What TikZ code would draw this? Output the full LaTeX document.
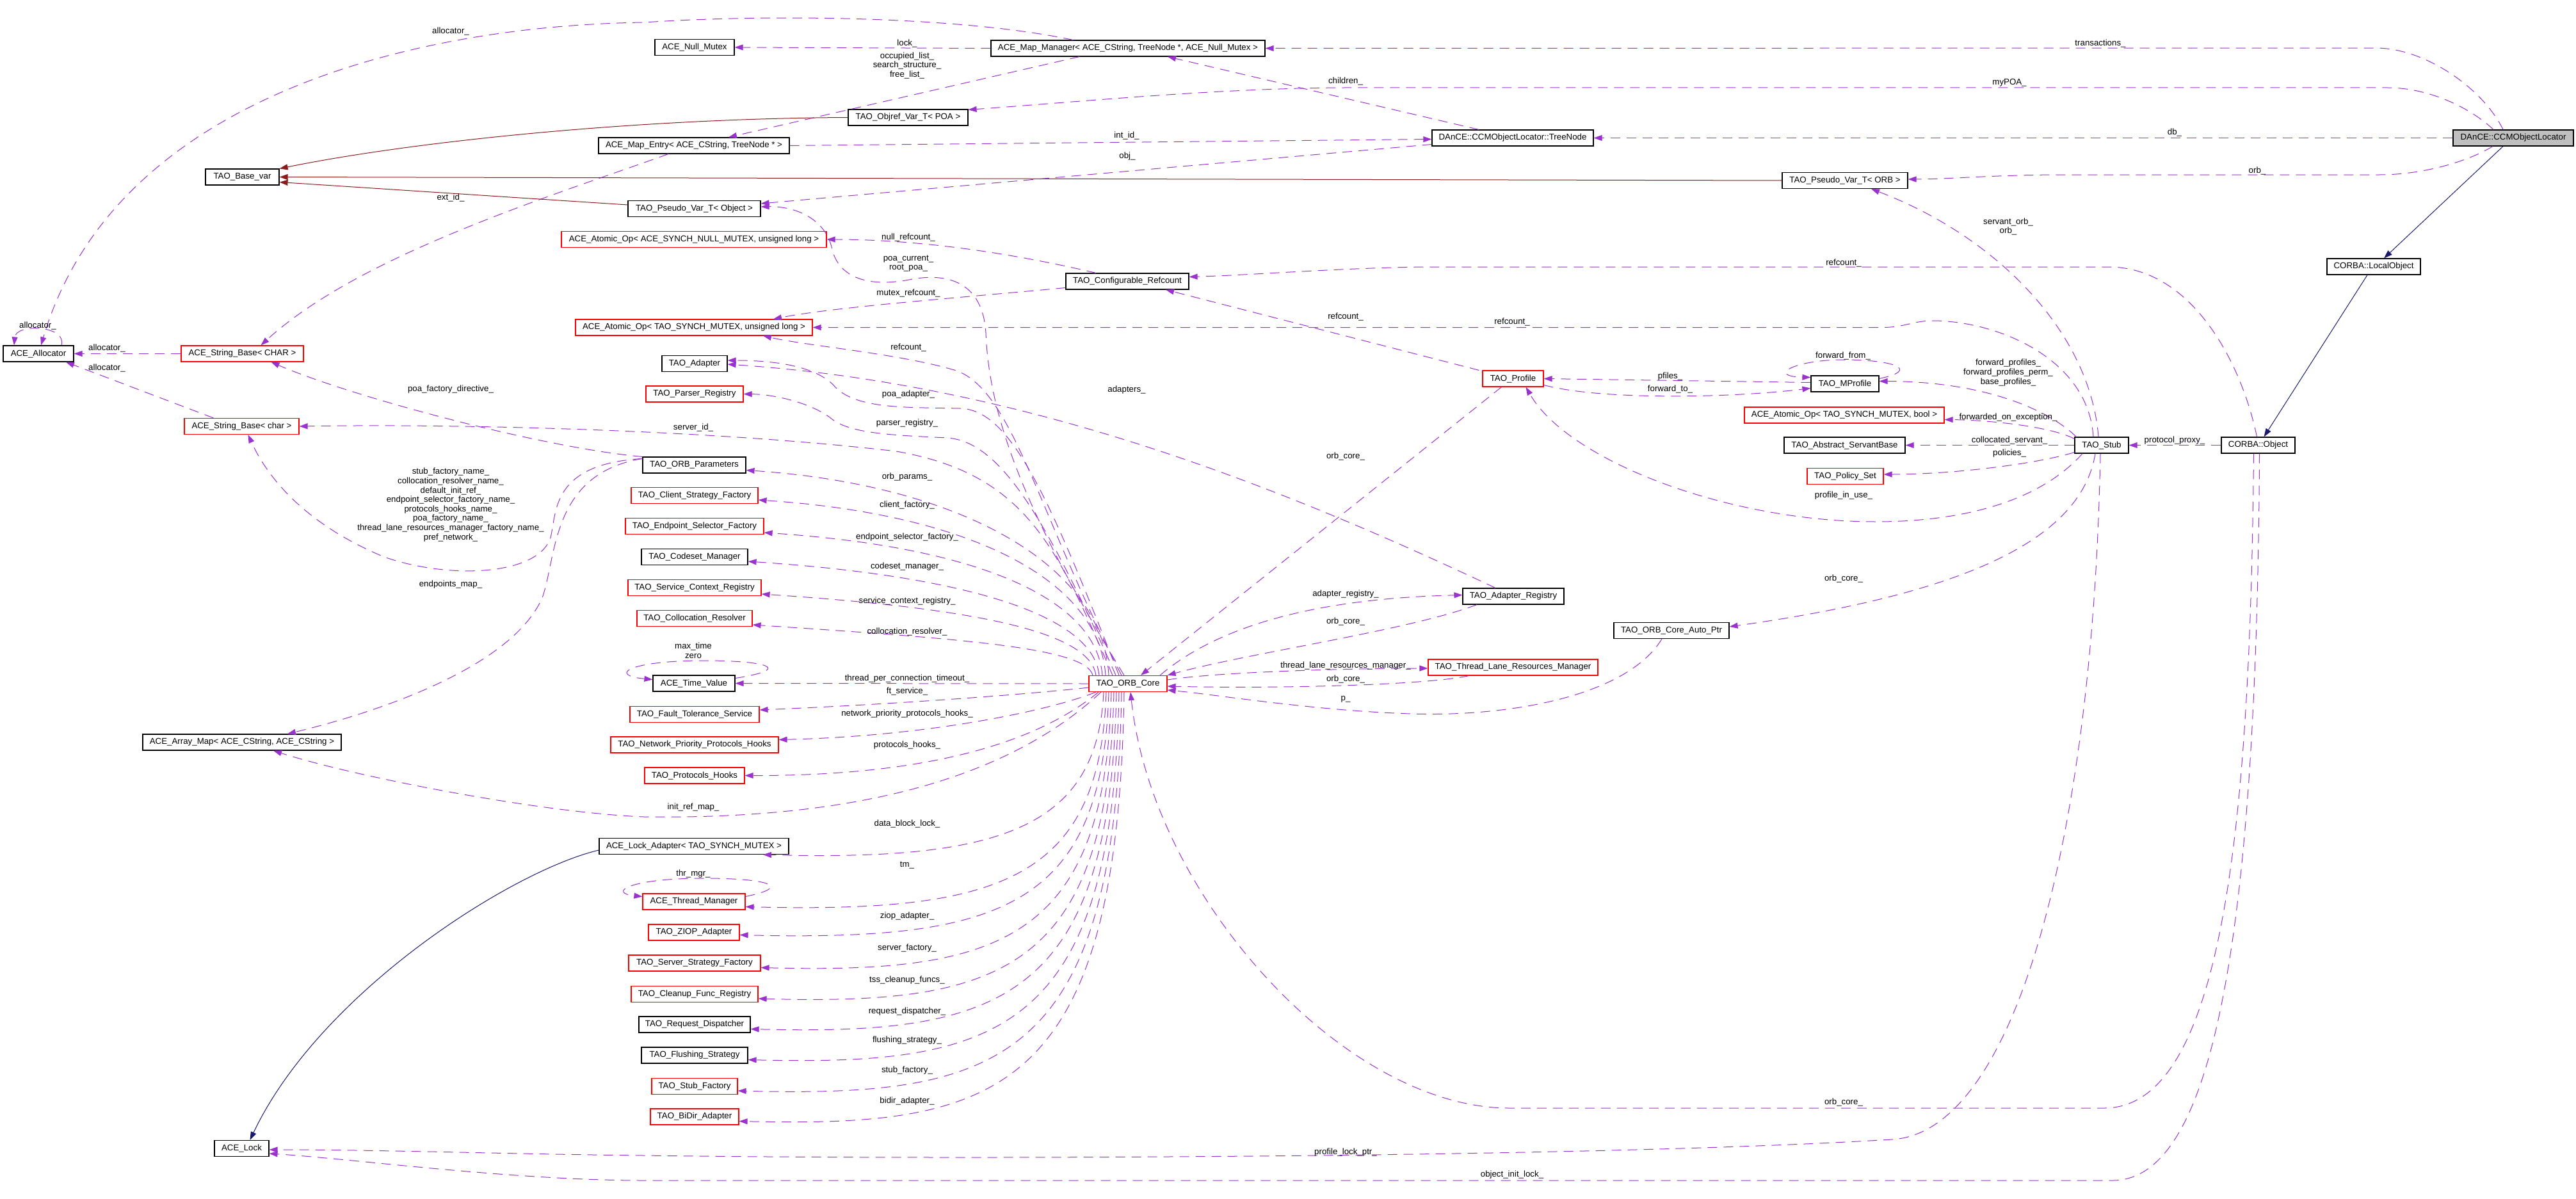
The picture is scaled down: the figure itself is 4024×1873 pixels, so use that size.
\documentclass[tikz,border=0pt]{standalone}
\usepackage{fontspec}
\setmainfont{Liberation Sans}
\usetikzlibrary{arrows.meta}
\definecolor{purp}{HTML}{9A32CD}
\definecolor{dred}{HTML}{8B1A1A}
\definecolor{mblue}{HTML}{191970}
\definecolor{gfill}{HTML}{BFBFBF}
\newcommand\dxf{\fontsize{13.3}{14.6}\selectfont}
\begin{document}
\begin{tikzpicture}[x=1pt,y=-1pt,
 box/.style={draw=black,line width=1.15pt,minimum height=25pt,inner sep=0pt,font=\dxf},
 rbox/.style={box,draw=red},
 gbox/.style={box,fill=gfill},
 lab/.style={font=\dxf,inner sep=0pt,align=center},
 mem/.style={draw=purp,line width=1pt,dash pattern=on 15pt off 10pt,-{Triangle[length=13pt,width=9pt]}},
 tmpl/.style={draw=dred,line width=1pt,-{Triangle[length=13pt,width=9pt]}},
 inh/.style={draw=mblue,line width=1pt,-{Triangle[length=13pt,width=9pt]}}]
\fill[white] (0,0) rectangle (4024,1873);
\useasboundingbox (0,0) rectangle (4024,1873);
% ---------- nodes
\node[box,minimum width=110pt] (alloc) at (60,552.5) {ACE\_Allocator};
\node[rbox,minimum width=191pt] (strCHAR) at (378.5,552.5) {ACE\_String\_Base< CHAR >};
\node[box,minimum width=115pt] (basevar) at (378.5,276.5) {TAO\_Base\_var};
\node[box,minimum width=124pt] (nullmtx) at (1085,74) {ACE\_Null\_Mutex};
\node[box,minimum width=428pt] (mapmgr) at (1762,75.5) {ACE\_Map\_Manager< ACE\_CString, TreeNode *, ACE\_Null\_Mutex >};
\node[box,minimum width=187pt] (objref) at (1418.5,183.5) {TAO\_Objref\_Var\_T< POA >};
\node[box,minimum width=298pt] (mapentry) at (1084,227.5) {ACE\_Map\_Entry< ACE\_CString, TreeNode * >};
\node[box,minimum width=207pt] (pvobj) at (1084.5,326) {TAO\_Pseudo\_Var\_T< Object >};
\node[rbox,minimum width=414pt] (atomnull) at (1084,374) {ACE\_Atomic\_Op< ACE\_SYNCH\_NULL\_MUTEX, unsigned long >};
\node[box,minimum width=192pt] (cref) at (1761,439.5) {TAO\_Configurable\_Refcount};
\node[rbox,minimum width=370pt] (atommtx) at (1084,511.5) {ACE\_Atomic\_Op< TAO\_SYNCH\_MUTEX, unsigned long >};
\node[box,minimum width=102pt] (adapter) at (1085,568) {TAO\_Adapter};
\node[rbox,minimum width=152pt] (parser) at (1085,615.5) {TAO\_Parser\_Registry};
\node[rbox,minimum width=179pt] (strchar) at (377.5,666) {ACE\_String\_Base< char >};
\node[box,minimum width=161pt] (orbparams) at (1084.5,726.5) {TAO\_ORB\_Parameters};
\node[rbox,minimum width=198pt] (clientfac) at (1085,774) {TAO\_Client\_Strategy\_Factory};
\node[rbox,minimum width=216pt] (epfac) at (1085,822) {TAO\_Endpoint\_Selector\_Factory};
\node[box,minimum width=166pt] (codeset) at (1085,870) {TAO\_Codeset\_Manager};
\node[rbox,minimum width=208pt] (servctx) at (1085,918) {TAO\_Service\_Context\_Registry};
\node[rbox,minimum width=180pt] (colloc) at (1085,966) {TAO\_Collocation\_Resolver};
\node[box,minimum width=128pt] (timeval) at (1084,1067.5) {ACE\_Time\_Value};
\node[rbox,minimum width=202pt] (ftserv) at (1085,1116) {TAO\_Fault\_Tolerance\_Service};
\node[rbox,minimum width=262pt] (netprio) at (1085,1163.5) {TAO\_Network\_Priority\_Protocols\_Hooks};
\node[rbox,minimum width=156pt] (prothooks) at (1085,1211.5) {TAO\_Protocols\_Hooks};
\node[box,minimum width=310pt] (arraymap) at (378,1159.5) {ACE\_Array\_Map< ACE\_CString, ACE\_CString >};
\node[box,minimum width=296pt] (lockadapter) at (1084,1322) {ACE\_Lock\_Adapter< TAO\_SYNCH\_MUTEX >};
\node[rbox,minimum width=160pt] (thrmgr) at (1084,1408.5) {ACE\_Thread\_Manager};
\node[rbox,minimum width=142pt] (ziop) at (1084,1456.5) {TAO\_ZIOP\_Adapter};
\node[rbox,minimum width=206pt] (servfac) at (1085,1504.5) {TAO\_Server\_Strategy\_Factory};
\node[rbox,minimum width=198pt] (cleanup) at (1085,1553) {TAO\_Cleanup\_Func\_Registry};
\node[box,minimum width=174pt] (reqdisp) at (1085,1600.5) {TAO\_Request\_Dispatcher};
\node[box,minimum width=166pt] (flush) at (1085,1648.5) {TAO\_Flushing\_Strategy};
\node[rbox,minimum width=134pt] (stubfac) at (1085,1697) {TAO\_Stub\_Factory};
\node[rbox,minimum width=138pt] (bidir) at (1085,1744.5) {TAO\_BiDir\_Adapter};
\node[box,minimum width=85pt] (acelock) at (377.5,1794) {ACE\_Lock};
\node[rbox,minimum width=122pt] (orbcore) at (1762,1068) {TAO\_ORB\_Core};
\node[box,minimum width=252pt] (treenode) at (2363,215.5) {DAnCE::CCMObjectLocator::TreeNode};
\node[box,minimum width=196pt] (pvorb) at (2882,282) {TAO\_Pseudo\_Var\_T< ORB >};
\node[rbox,minimum width=95pt] (profile) at (2363.5,591.5) {TAO\_Profile};
\node[box,minimum width=106pt] (mprofile) at (2882,599.5) {TAO\_MProfile};
\node[box,minimum width=158pt] (adreg) at (2364,931.5) {TAO\_Adapter\_Registry};
\node[rbox,minimum width=265pt] (tlrm) at (2363.5,1042.5) {TAO\_Thread\_Lane\_Resources\_Manager};
\node[box,minimum width=180pt] (autoptr) at (2611,985) {TAO\_ORB\_Core\_Auto\_Ptr};
\node[rbox,minimum width=312pt] (atombool) at (2881,648.5) {ACE\_Atomic\_Op< TAO\_SYNCH\_MUTEX, bool >};
\node[box,minimum width=189pt] (servbase) at (2881.5,695.5) {TAO\_Abstract\_ServantBase};
\node[rbox,minimum width=119pt] (policy) at (2882.5,744) {TAO\_Policy\_Set};
\node[box,minimum width=84pt] (stub) at (3283,695.5) {TAO\_Stub};
\node[box,minimum width=115pt] (cobj) at (3527.5,695.5) {CORBA::Object};
\node[box,minimum width=146pt] (lobj) at (3708,416.5) {CORBA::LocalObject};
\node[gbox,minimum width=188pt] (loc) at (3926,215.5) {DAnCE::CCMObjectLocator};
% ---------- edges: locator
\draw[mem] ([xshift=-16pt]loc.north) .. controls (3880,140) and (3790,75) .. (3711,75) -- (mapmgr.east);
\draw[mem] ([xshift=-31pt]loc.north) .. controls (3855,165) and (3790,137) .. (3730,137) -- (2100,137) .. controls (1900,138) and (1700,158) .. ([yshift=-1pt]objref.north east);
\draw[mem] (loc.west) -- (treenode.east);
\draw[mem] ([xshift=-32pt]loc.south) .. controls (3850,255) and (3780,273) .. (3717,273) -- (3210,273) .. controls (3100,274) and (3040,280) .. ([yshift=2pt]pvorb.east);
\draw[inh] ([xshift=-16pt]loc.south) -- ([xshift=16pt]lobj.north);
\draw[inh] ([xshift=-10pt]lobj.south) -- ([xshift=9pt]cobj.north);
% treenode / map
\draw[mem] ([xshift=-53pt]treenode.north) -- ([xshift=62pt]mapmgr.south);
\draw[mem] (mapmgr.west) -- (nullmtx.east);
\draw[mem] ([xshift=-76pt]mapmgr.south) -- ([xshift=54pt]mapentry.north);
\draw[mem] ([xshift=-86pt]mapmgr.north) .. controls (1500,25) and (1200,22) .. (1006,35) .. controls (650,40) and (180,150) .. ([xshift=4pt]alloc.north);
\draw[mem] (mapentry.east) -- ([yshift=-2pt]treenode.west);
\draw[mem] ([xshift=-40pt]mapentry.south) .. controls (850,310) and (560,400) .. ([xshift=29pt]strCHAR.north);
\draw[mem] ([yshift=-10pt]treenode.west) -- ([yshift=8pt]pvobj.east);
% templates
\draw[tmpl] (objref.west) .. controls (1000,185) and (650,220) .. (basevar.north east);
\draw[tmpl] (pvorb.west) -- (basevar.east);
\draw[tmpl] ([yshift=6pt]pvobj.west) -- ([yshift=-8pt]basevar.east);
% refcounts
\draw[mem] ([xshift=-49pt]cref.north) .. controls (1600,400) and (1450,374) .. (atomnull.east);
\draw[mem] ([yshift=-10pt]cref.west) .. controls (1500,465) and (1300,480) .. ([xshift=124pt]atommtx.north);
\draw[mem] ([xshift=-53pt]profile.north) -- ([xshift=60pt]cref.south);
\draw[mem] ([xshift=-2pt]cobj.north) .. controls (3500,560) and (3420,417) .. (3294,417) -- (2230,417) .. controls (2100,418) and (1950,430) .. ([yshift=7pt]cref.east);
\draw[mem] ([xshift=-13pt]stub.north) .. controls (3262,560) and (3120,501) .. (3018,501) .. controls (2990,501) and (2975,511.5) .. (2940,511.5) -- (atommtx.east);
% stub
\draw[mem] ([xshift=-5pt]stub.north) .. controls (3265,520) and (3120,370) .. ([xshift=41pt]pvorb.south);
\draw[mem] ([xshift=3pt]stub.north west) .. controls (3200,640) and (3100,596) .. ([yshift=4pt]mprofile.east);
\draw[mem] ([yshift=-3pt]stub.north west) .. controls (3200,665) and (3100,656) .. ([yshift=-7pt]atombool.east);
\draw[mem] (stub.west) -- (servbase.east);
\draw[mem] ([yshift=2pt]stub.south west) .. controls (3180,725) and (3050,741) .. ([yshift=3pt]policy.east);
\draw[mem] ([xshift=-30pt]stub.south) .. controls (3180,790) and (3050,815) .. (2930,815) .. controls (2700,815) and (2450,720) .. ([xshift=20pt]profile.south);
\draw[mem] ([xshift=-10pt]stub.south) .. controls (3250,850) and (3050,930) .. ([yshift=6pt]autoptr.east);
\draw[mem] (cobj.west) -- (stub.east);
\draw[mem] ([xshift=-7pt]cobj.south) .. controls (3515,1300) and (3470,1731) .. (3287,1731) -- (2358,1731) .. controls (2100,1731) and (1800,1400) .. ([xshift=4pt]orbcore.south);
\draw[mem] ([xshift=2pt]cobj.south) .. controls (3525,1500) and (3450,1844) .. (3300,1844) -- (1006,1844) .. controls (800,1844) and (550,1810) .. ([yshift=-8pt]acelock.east);
\draw[mem] ([xshift=-2pt]stub.south) .. controls (3270,1300) and (3150,1770) .. (2955,1780) .. controls (2500,1808) and (1500,1812) .. (1006,1805) .. controls (800,1803) and (600,1796) .. ([yshift=-2pt]acelock.east);
% profiles
\draw[mem] ([yshift=8pt]mprofile.east) .. controls (3000,578) and (2960,562) .. (2880,562) .. controls (2800,562) and (2760,588) .. ([yshift=10pt]mprofile.west);
\draw[mem] ([yshift=2pt]mprofile.west) -- (profile.east);
\draw[mem] ([yshift=-10pt]profile.east) .. controls (2500,625) and (2700,622) .. ([yshift=-7pt]mprofile.west);
\draw[mem] ([xshift=-18pt]profile.south) -- ([xshift=20pt]orbcore.north);
% adapters
\draw[mem] ([xshift=-28pt]adreg.north) .. controls (2000,760) and (1600,600) .. ([yshift=-1pt]adapter.east);
\draw[mem] ([xshift=50pt]orbcore.north) .. controls (1900,980) and (2050,935) .. ([yshift=2pt]adreg.west);
\draw[mem] ([xshift=-57pt]adreg.south) .. controls (2200,985) and (1950,1020) .. (orbcore.north east);
\draw[mem] ([yshift=6pt]orbcore.east) .. controls (1900,1050) and (2100,1044) .. ([yshift=-1.5pt]tlrm.west);
\draw[mem] ([xshift=-69pt]tlrm.south) .. controls (2230,1070) and (2000,1076) .. ([yshift=-4pt]orbcore.east);
\draw[mem] ([xshift=-15pt]autoptr.south) .. controls (2540,1090) and (2350,1120) .. (2204,1115) .. controls (2050,1110) and (1900,1085) .. ([yshift=-10pt]orbcore.east);
% orb core upper-left
\draw[mem] ([xshift=-14pt]orbcore.north) .. controls (1640,780) and (1580,640) .. (1500,638) .. controls (1420,636) and (1340,640) .. (1305,605) .. controls (1280,575) and (1220,563) .. ([yshift=5pt]adapter.east);
\draw[mem] ([xshift=-19pt]orbcore.north) .. controls (1630,800) and (1560,690) .. (1480,684) .. controls (1400,680) and (1330,678) .. (1300,655) .. controls (1270,630) and (1210,616) .. (parser.east);
\draw[mem] ([xshift=-24pt]orbcore.north) .. controls (1650,850) and (1600,740) .. (1400,705) .. controls (1100,670) and (700,662) .. (strchar.east);
\draw[mem] ([xshift=-10pt]orbcore.north) .. controls (1620,800) and (1580,600) .. (1487,577) .. controls (1400,552) and (1260,540) .. ([xshift=108pt]atommtx.south);
\draw[mem] ([xshift=-6pt]orbcore.north) .. controls (1600,800) and (1545,650) .. (1540,520) .. controls (1535,440) and (1480,425) .. (1420,437) .. controls (1350,450) and (1310,430) .. (1300,390) .. controls (1290,340) and (1240,322) .. ([yshift=3pt]pvobj.east);
\draw[mem] ([xshift=-30pt]orbcore.north) .. controls (1722,879) and (1495,757) .. ([yshift=-8pt]orbparams.east);
\draw[mem] ([xshift=-35pt]orbcore.north) .. controls (1717,905) and (1514,803) .. ([yshift=-7pt]clientfac.east);
\draw[mem] ([xshift=-40pt]orbcore.north) .. controls (1712,933) and (1523,854) .. ([yshift=-10pt]epfac.east);
\draw[mem] ([xshift=-45pt]orbcore.north) .. controls (1707,958) and (1498,899) .. ([yshift=-7pt]codeset.east);
\draw[mem] ([xshift=-50pt]orbcore.north) .. controls (1702,986) and (1519,950) .. ([yshift=-10pt]servctx.east);
\draw[mem] ([xshift=-55pt]orbcore.north) .. controls (1697,1012) and (1505,998) .. ([yshift=-10pt]colloc.east);
\draw[mem] (orbcore.west) -- (timeval.east);
\draw[mem] ([yshift=8pt]timeval.east) .. controls (1240,1045) and (1200,1032) .. (1100,1032) .. controls (980,1032) and (950,1055) .. ([yshift=6pt]timeval.west);
\draw[mem] ([yshift=-6pt]orbcore.west) .. controls (1600,1085) and (1400,1100) .. ([yshift=7pt]ftserv.east);
\draw[mem] ([xshift=-50pt]orbcore.south) .. controls (1640,1110) and (1450,1150) .. ([yshift=8pt]netprio.east);
\draw[mem] ([xshift=-46pt]orbcore.south) .. controls (1620,1160) and (1450,1212) .. (prothooks.east);
% orb core lower-left
\draw[mem] ([xshift=-42pt]orbcore.south) .. controls (1560,1230) and (1300,1280) .. (1006,1276) .. controls (850,1270) and (560,1215) .. ([xshift=49pt]arraymap.south);
\draw[mem] ([xshift=-38pt]orbcore.south) .. controls (1714,1295) and (1560,1345) .. ([xshift=108pt]lockadapter.south);
\draw[mem] ([xshift=-34pt]orbcore.south) .. controls (1718,1376) and (1560,1426) .. ([yshift=-8pt]thrmgr.east);
\draw[mem] ([yshift=8pt]thrmgr.east) .. controls (1240,1385) and (1200,1372) .. (1100,1372) .. controls (980,1372) and (950,1395) .. ([yshift=8pt]thrmgr.west);
\draw[mem] ([xshift=-30pt]orbcore.south) .. controls (1722,1420) and (1560,1470) .. ([yshift=-4pt]ziop.east);
\draw[mem] ([xshift=-26pt]orbcore.south) .. controls (1726,1471) and (1560,1521) .. ([yshift=-7pt]servfac.east);
\draw[mem] ([xshift=-22pt]orbcore.south) .. controls (1730,1520) and (1560,1570) .. ([yshift=-7pt]cleanup.east);
\draw[mem] ([xshift=-18pt]orbcore.south) .. controls (1734,1567) and (1560,1617) .. ([yshift=-7pt]reqdisp.east);
\draw[mem] ([xshift=-14pt]orbcore.south) .. controls (1738,1615) and (1560,1665) .. ([yshift=-7pt]flush.east);
\draw[mem] ([xshift=-10pt]orbcore.south) .. controls (1742,1664) and (1560,1714) .. ([yshift=-7pt]stubfac.east);
\draw[mem] ([xshift=-6pt]orbcore.south) .. controls (1746,1711) and (1560,1761) .. ([yshift=-7pt]bidir.east);
\draw[inh] ([yshift=-6pt]lockadapter.west) .. controls (800,1360) and (500,1550) .. ([xshift=13pt]acelock.north);
% orb parameters & strings
\draw[mem] (orbparams.north west) .. controls (850,700) and (550,620) .. ([xshift=45pt]strCHAR.south);
\draw[mem] ([yshift=-3pt]orbparams.north west) .. controls (860,725) and (870,800) .. (860,840) .. controls (840,900) and (700,905) .. (600,870) .. controls (480,820) and (420,750) .. ([xshift=10pt]strchar.south);
\draw[mem] ([yshift=-3pt]orbparams.north west) .. controls (860,740) and (870,870) .. (847,934) .. controls (800,1040) and (600,1110) .. ([xshift=71pt]arraymap.north);
\draw[mem] ([xshift=-44pt]strchar.north) -- ([xshift=43pt]alloc.south);
\draw[mem] (strCHAR.west) -- (alloc.east);
\draw[mem] ([xshift=36pt]alloc.north) .. controls (105,508) and (25,505) .. ([xshift=-38pt]alloc.north);
% ---------- labels
\node[lab] (l1) at (704,49) {allocator\_};
\node[lab] (l2) at (59,509) {allocator\_};
\node[lab] (l3) at (167,544) {allocator\_};
\node[lab] (l4) at (167,575) {allocator\_};
\node[lab] (l5) at (704,608) {poa\_factory\_directive\_};
\node[lab] (l6) at (704,309) {ext\_id\_};
\node[lab] (l7) at (1417,68) {lock\_};
\node[lab] (l8) at (1417,102.5) {occupied\_list\_\\search\_structure\_\\free\_list\_};
\node[lab] (l9) at (1760,212) {int\_id\_};
\node[lab] (l10) at (1761,244) {obj\_};
\node[lab] (l11) at (2102,127) {children\_};
\node[lab] (l12) at (3281,68) {transactions\_};
\node[lab] (l13) at (3139,129) {myPOA\_};
\node[lab] (l14) at (3397,207) {db\_};
\node[lab] (l15) at (3526,267) {orb\_};
\node[lab] (l16) at (3137,354) {servant\_orb\_\\orb\_};
\node[lab] (l17) at (1419,371) {null\_refcount\_};
\node[lab] (l18) at (1419,411.5) {poa\_current\_\\root\_poa\_};
\node[lab] (l19) at (1419,458) {mutex\_refcount\_};
\node[lab] (l20) at (1419,543) {refcount\_};
\node[lab] (l21) at (2880,411) {refcount\_};
\node[lab] (l22) at (2102,495) {refcount\_};
\node[lab] (l23) at (2362,503) {refcount\_};
\node[lab] (l24) at (2879,556) {forward\_from\_};
\node[lab] (l25) at (2609,588) {pfiles\_};
\node[lab] (l26) at (2609,608) {forward\_to\_};
\node[lab] (l27) at (3137,582) {forward\_profiles\_\\forward\_profiles\_perm\_\\base\_profiles\_};
\node[lab] (l28) at (1760,609) {adapters\_};
\node[lab] (l29) at (1419,616) {poa\_adapter\_};
\node[lab] (l30) at (1417,661) {parser\_registry\_};
\node[lab] (l31) at (1083,668) {server\_id\_};
\node[lab] (l32) at (704,788.5) {stub\_factory\_name\_\\collocation\_resolver\_name\_\\default\_init\_ref\_\\endpoint\_selector\_factory\_name\_\\protocols\_hooks\_name\_\\poa\_factory\_name\_\\thread\_lane\_resources\_manager\_factory\_name\_\\pref\_network\_};
\node[lab] (l33) at (704,913) {endpoints\_map\_};
\node[lab] (l34) at (1417,745) {orb\_params\_};
\node[lab] (l35) at (1417,789) {client\_factory\_};
\node[lab] (l36) at (1417,839) {endpoint\_selector\_factory\_};
\node[lab] (l37) at (1417,885) {codeset\_manager\_};
\node[lab] (l38) at (1417,939) {service\_context\_registry\_};
\node[lab] (l39) at (1417,987) {collocation\_resolver\_};
\node[lab] (l40) at (1083,1016) {max\_time\\zero};
\node[lab] (l41) at (1417,1060) {thread\_per\_connection\_timeout\_};
\node[lab] (l42) at (1417,1080) {ft\_service\_};
\node[lab] (l43) at (1417,1115) {network\_priority\_protocols\_hooks\_};
\node[lab] (l44) at (1417,1164) {protocols\_hooks\_};
\node[lab] (l45) at (1083,1261) {init\_ref\_map\_};
\node[lab] (l46) at (1417,1287) {data\_block\_lock\_};
\node[lab] (l47) at (1417,1352) {tm\_};
\node[lab] (l48) at (1083,1365) {thr\_mgr\_};
\node[lab] (l49) at (1417,1431) {ziop\_adapter\_};
\node[lab] (l50) at (1417,1481) {server\_factory\_};
\node[lab] (l51) at (1417,1531) {tss\_cleanup\_funcs\_};
\node[lab] (l52) at (1417,1580) {request\_dispatcher\_};
\node[lab] (l53) at (1417,1625) {flushing\_strategy\_};
\node[lab] (l54) at (1417,1672) {stub\_factory\_};
\node[lab] (l55) at (1417,1720) {bidir\_adapter\_};
\node[lab] (l56) at (2102,713) {orb\_core\_};
\node[lab] (l57) at (3137,652) {forwarded\_on\_exception\_};
\node[lab] (l58) at (3139,688) {collocated\_servant\_};
\node[lab] (l59) at (3139,708) {policies\_};
\node[lab] (l60) at (2880,774) {profile\_in\_use\_};
\node[lab] (l61) at (2880,904) {orb\_core\_};
\node[lab] (l62) at (2102,928) {adapter\_registry\_};
\node[lab] (l63) at (2102,971) {orb\_core\_};
\node[lab] (l64) at (2102,1040) {thread\_lane\_resources\_manager\_};
\node[lab] (l65) at (2102,1061) {orb\_core\_};
\node[lab] (l66) at (2102,1092) {p\_};
\node[lab] (l67) at (2880,1722) {orb\_core\_};
\node[lab] (l68) at (2102,1800) {profile\_lock\_ptr\_};
\node[lab] (l69) at (2362,1835) {object\_init\_lock\_};
\node[lab] (l70) at (3397,688) {protocol\_proxy\_};
\end{tikzpicture}
\end{document}
